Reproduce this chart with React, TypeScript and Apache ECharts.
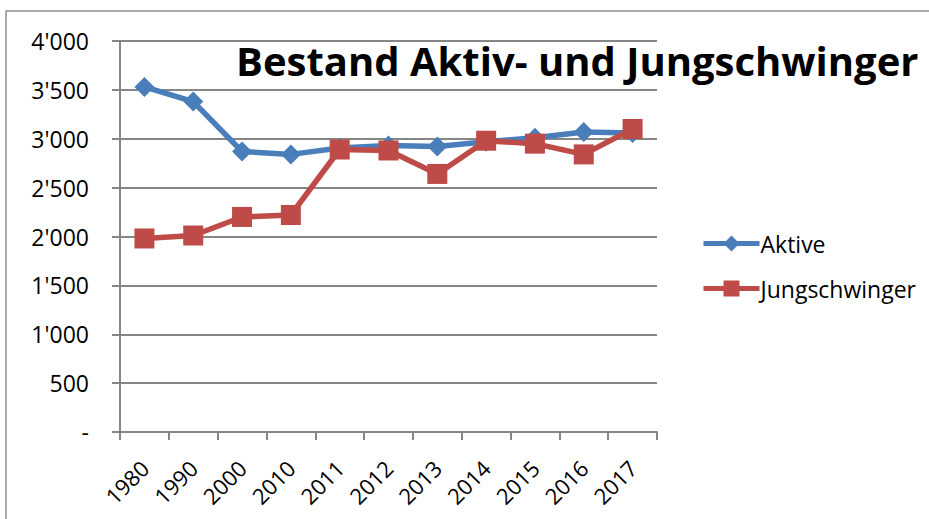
import React, { useEffect, useRef } from "react";
import * as echarts from "echarts";

const years = ["1980", "1990", "2000", "2010", "2011", "2012", "2013", "2014", "2015", "2016", "2017"];
const aktive = [3530, 3380, 2870, 2840, 2905, 2930, 2920, 2970, 3010, 3070, 3060];
const jungschwinger = [1980, 2010, 2200, 2220, 2890, 2880, 2640, 2980, 2950, 2840, 3100];
const yMin = 0;
const yMax = 4000;
const yStep = 500;

const FONT = "'Open Sans', 'Noto Sans', sans-serif";

function fmt(v: number): string {
  if (v === 0) return "-";
  const s = String(Math.round(v));
  return s.replace(/\B(?=(\d{3})+(?!\d))/g, "'");
}

export default function App() {
  const ref = useRef<HTMLDivElement>(null);
  useEffect(() => {
    if (!ref.current) return;
    const chart = echarts.init(ref.current, undefined, { renderer: "svg" });
    chart.setOption({
      animation: false,
      backgroundColor: "#ffffff",
      title: {
        text: "Bestand Aktiv- und Jungschwinger",
        left: 231,
        top: 35,
        textStyle: { fontFamily: FONT, fontWeight: "bold", fontSize: 40, color: "#000" },
        z: 10,
      },
      graphic: [
        {
          type: "rect",
          shape: { x: 6, y: 11, width: 1000, height: 700 },
          style: { fill: "none", stroke: "#8c8c8c", lineWidth: 1.5 },
          silent: true,
          z: -1,
        },
      ],
      legend: {
        orient: "vertical",
        left: 696,
        top: 227,
        itemWidth: 56,
        itemHeight: 20,
        itemGap: 22,
        lineStyle: { width: 5 },
        textStyle: { fontFamily: FONT, fontSize: 23, color: "#000", padding: [0, 0, 0, -4] },
        data: ["Aktive", "Jungschwinger"],
      },
      grid: { left: 120, right: 272, top: 41, bottom: 87, containLabel: false },
      xAxis: {
        type: "category",
        data: years,
        boundaryGap: true,
        axisLine: { lineStyle: { color: "#868686", width: 2 } },
        axisTick: { show: true, length: 8, lineStyle: { color: "#868686", width: 2 } },
        axisLabel: { rotate: 45, margin: 32, fontFamily: FONT, fontSize: 22, color: "#000" },
      },
      yAxis: {
        type: "value",
        min: yMin,
        max: yMax,
        interval: yStep,
        axisLine: { show: true, lineStyle: { color: "#868686", width: 2 } },
        axisTick: { show: true, length: 8, lineStyle: { color: "#868686", width: 2 } },
        splitLine: { show: true, lineStyle: { color: "#868686", width: 2 } },
        axisLabel: { margin: 31, fontFamily: FONT, fontSize: 23, color: "#000", formatter: fmt },
      },
      series: [
        {
          name: "Aktive",
          type: "line",
          data: aktive,
          symbol: "diamond",
          symbolSize: 20,
          lineStyle: { color: "#4A7EBB", width: 5.5 },
          itemStyle: { color: "#4A7EBB" },
          z: 2,
        },
        {
          name: "Jungschwinger",
          type: "line",
          data: jungschwinger,
          symbol: "rect",
          symbolSize: 20,
          lineStyle: { color: "#BE4B48", width: 5.5 },
          itemStyle: { color: "#BE4B48" },
          z: 3,
        },
      ],
    });
    return () => chart.dispose();
  }, []);
  return (
    <div
      ref={ref}
      style={{ position: "fixed", left: 0, top: 0, width: 929, height: 519 }}
    />
  );
}
